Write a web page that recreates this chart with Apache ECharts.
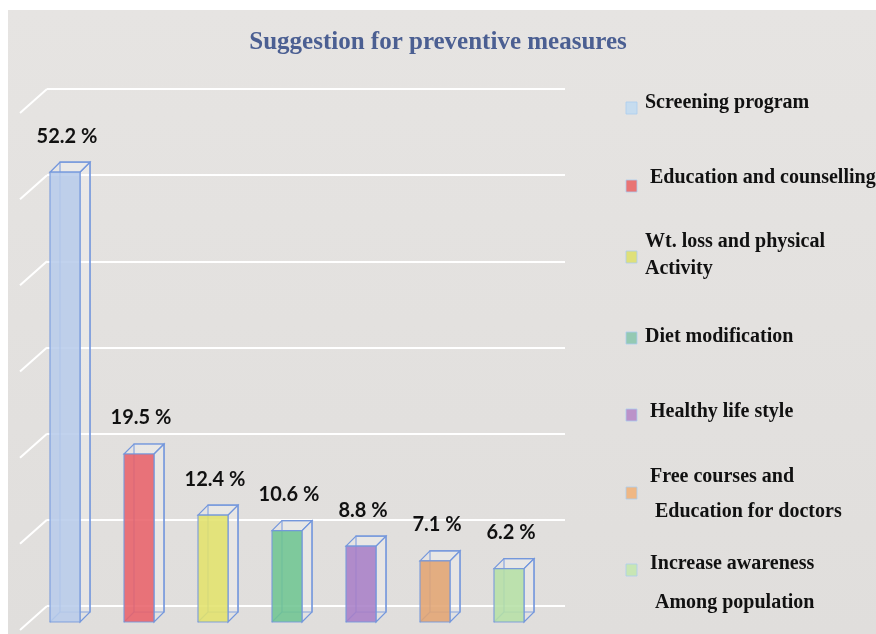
<!DOCTYPE html>
<html>
<head>
<meta charset="utf-8">
<script src="https://cdn.jsdelivr.net/npm/echarts@6/dist/echarts.min.js"></script>
<style>
  body { margin: 0; background: #fff; }
  #chart {
    width: 876px;
    height: 634px;
    background: linear-gradient(#e6e4e2, #e0dedc) no-repeat 8px 10px / 868px 624px, #fff;
  }
</style>
</head>
<body>
<div id="chart"></div>
<script>
// data
var categories = [
  "Screening program",
  "Education and counselling",
  "Wt. loss and physical Activity",
  "Diet modification",
  "Healthy life style",
  "Free courses and Education for doctors",
  "Increase awareness Among population"
];
var percentValues = [52.2, 19.5, 12.4, 10.6, 8.8, 7.1, 6.2];
var gridTicks = [0, 10, 20, 30, 40, 50, 60];
var legendLabels = [
  "Screening program",
  "Education and counselling",
  "Wt. loss and physical\nActivity",
  "Diet modification",
  "Healthy life style",
  "Free courses and\n Education for doctors",
  "Increase awareness\n Among population"
];

// styles
var barColors = ["#b8cceb", "#e8626a", "#e2e26c", "#70c592", "#a97fc7", "#e2a573", "#b6e0a6"];
var markerColors = ["#c6dcef", "#e97474", "#dfe07a", "#94c9b3", "#bb92c9", "#efb784", "#c8e6b4"];
var edgeColor = "#7497dc";
var legendTextX = [645, 650, 645, 645, 650, 650, 650];
var legendTextY = [103, 178, 255.5, 337, 412, 494.5, 583.5];
var legendLineH = [22, 22, 27, 22, 22, 35, 39];
var markerY = [108, 186, 257, 338, 415, 493, 570];

var chart = echarts.init(document.getElementById("chart"));

var graphics = [];
legendLabels.forEach(function (name, i) {
  graphics.push({
    type: "rect",
    shape: { x: 626, y: markerY[i] - 6, width: 11, height: 12 },
    style: { fill: markerColors[i], stroke: "rgba(170,205,240,0.8)", lineWidth: 1 }
  });
  graphics.push({
    type: "text",
    x: legendTextX[i],
    y: legendTextY[i],
    style: {
      text: name,
      fill: "#111",
      font: "bold 20px 'Liberation Serif', 'DejaVu Serif', serif",
      lineHeight: legendLineH[i],
      verticalAlign: "middle",
      align: "left"
    }
  });
});

var option = {
  title: {
    text: "Suggestion for preventive measures",
    left: "center",
    top: 25,
    textStyle: {
      color: "#4b5f92",
      fontFamily: "'Liberation Serif', serif",
      fontWeight: "bold",
      fontSize: 25
    }
  },
  grid: { left: 47, right: 311, top: 89, bottom: 28 },
  xAxis: {
    type: "category",
    data: categories,
    show: false
  },
  yAxis: {
    type: "value",
    min: 0,
    max: 60,
    interval: 10,
    axisLine: { show: false },
    axisTick: { show: false },
    axisLabel: { show: false },
    splitLine: { lineStyle: { color: "#ffffff", width: 2 } }
  },
  graphic: graphics,
  series: [
    {
      // perspective strokes of the back wall grid lines
      type: "custom",
      clip: false,
      silent: true,
      data: gridTicks.map(function (v) { return [0, v]; }),
      renderItem: function (params, api) {
        var y = api.coord([0, api.value(1)])[1];
        var x0 = params.coordSys.x;
        return {
          type: "line",
          shape: { x1: x0, y1: y, x2: x0 - 27, y2: y + 24 },
          style: { stroke: "#ffffff", lineWidth: 2 }
        };
      }
    },
    {
      type: "custom",
      clip: false,
      data: percentValues.map(function (v, i) { return [i, v]; }),
      renderItem: function (params, api) {
        var i = api.value(0);
        var top = api.coord([i, api.value(1)]);
        var base = api.coord([i, 0]);
        var w = 30, dx = 10, dy = 10;
        var fx = top[0] - 34;
        var fTop = top[1] + 16;
        var fBot = base[1] + 16;
        var bx = fx + dx, bTop = fTop - dy, bBot = fBot - dy;
        var edge = { stroke: edgeColor, lineWidth: 1.2, fill: null };
        return {
          type: "group",
          children: [
            // back face
            { type: "rect", shape: { x: bx, y: bTop, width: w, height: bBot - bTop },
              style: { fill: "rgba(255,255,255,0.12)", stroke: edgeColor, lineWidth: 1.2 } },
            // top face
            { type: "polygon", shape: { points: [[fx, fTop], [fx + w, fTop], [bx + w, bTop], [bx, bTop]] },
              style: { fill: "rgba(255,255,255,0.15)", stroke: edgeColor, lineWidth: 1.2 } },
            // right side
            { type: "polygon", shape: { points: [[fx + w, fTop], [bx + w, bTop], [bx + w, bBot], [fx + w, fBot]] },
              style: { fill: "rgba(255,255,255,0.12)", stroke: edgeColor, lineWidth: 1.2 } },
            // bottom-left edge
            { type: "line", shape: { x1: fx, y1: fBot, x2: bx, y2: bBot }, style: edge },
            // front face
            { type: "rect", shape: { x: fx, y: fTop, width: w, height: fBot - fTop },
              style: { fill: barColors[i], opacity: 0.88, stroke: edgeColor, lineWidth: 1.2 } },
            // value label
            { type: "text", x: fx + 17, y: bTop - 26,
              style: {
                text: api.value(1).toFixed(1) + " %",
                fill: "#111",
                font: "bold 20px 'Liberation Sans Narrow', Lato, sans-serif",
                align: "center",
                verticalAlign: "middle"
              } }
          ]
        };
      }
    }
  ]
};

chart.setOption(option);
window.onresize = function () {
  chart.resize();
};
</script>
</body>
</html>
